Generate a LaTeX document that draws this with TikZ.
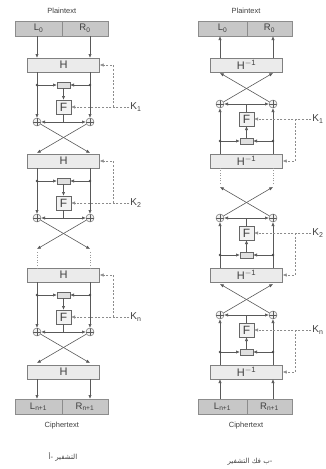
\documentclass[tikz,border=0pt]{standalone}
\usepackage{fontspec}
\setmainfont{Liberation Sans}
\newfontfamily\arabicfont[Script=Arabic]{DejaVu Sans}
\TeXXeTstate=1
\usetikzlibrary{arrows.meta, positioning, calc}

\begin{document}
\begin{tikzpicture}[
  x=1pt, y=-1pt,
  line/.style     = {draw=black!65, line width=0.6pt},
  arrow/.style    = {line, -{Latex[length=3.8pt,width=3.4pt]}},
  keyline/.style  = {draw=black!45, line width=0.5pt, dash pattern=on 2pt off 1.6pt},
  keyarrow/.style = {keyline, -{Latex[length=3.8pt,width=3.4pt]}},
  dotline/.style  = {draw=black!40, line width=0.5pt, dash pattern=on 1pt off 1.6pt},
  hbox/.style     = {draw=black!50, fill=black!8, minimum width=72pt, minimum height=14pt,
                     inner sep=0pt, font=\fontsize{11}{11}\selectfont, text=black!75},
  half/.style     = {draw=black!45, fill=black!22, minimum width=#1, minimum height=15pt,
                     inner sep=0pt, font=\fontsize{9.5}{10}\selectfont, text=black!75},
  fbox/.style     = {draw=black!60, fill=black!5, minimum width=15pt, minimum height=14pt,
                     inner sep=0pt, font=\fontsize{12}{12}\selectfont, text=black!75},
  smallbox/.style = {draw=black!60, fill=black!12, minimum width=13pt, minimum height=6.5pt,
                     inner sep=0pt},
  xor/.style      = {circle, draw=black!65, fill=black!6, minimum size=8pt, inner sep=0pt,
                     path picture={\draw[black!65]
                       (path picture bounding box.north) -- (path picture bounding box.south)
                       (path picture bounding box.west) -- (path picture bounding box.east);}},
  klabel/.style   = {font=\fontsize{10}{10}\selectfont, text=black!75, inner sep=1pt},
  title/.style    = {font=\fontsize{7.5}{8}\selectfont, text=black!75},
  dot/.style      = {fill=black!70}
]
\useasboundingbox (0,0) rectangle (325,469);

% ── Encryption (left) ─────────────────────────────────────────────────────────
\node[half=47pt] (eL0) at (38.5,28.5) {L\textsubscript{0}};
\node[half=46pt] (eR0) at (85,28.5)   {R\textsubscript{0}};
\node[title, above=4pt of $(eL0.north)!0.5!(eR0.north)$] (ePt) {Plaintext};

\node[hbox] (eH1) at (63.5,65)  {H};
\node[hbox] (eH2) at (63.5,161) {H};
\node[hbox] (eH3) at (63.5,275) {H};
\node[hbox] (eH4) at (63.5,372) {H};

\foreach \r/\y/\k in {1/65/1, 2/161/2, 3/275/n} {
  \node[smallbox] (eS\r)  at (63.5,\y+20) {};
  \node[fbox]     (eF\r)  at (63.5,\y+42) {F};
  \node[xor]      (eXl\r) at (37,\y+57) {};
  \node[xor]      (eXr\r) at (90,\y+57) {};
  \node[klabel]   (eK\r)  at (136,\y+42) {K\textsubscript{\k}};
  \coordinate (eJl\r) at (37,\y+20);
  \coordinate (eJr\r) at (90,\y+20);
  \coordinate (eJo\r) at (63.5,\y+57);
  \coordinate (eKc\r) at (113,\y+42);
  \coordinate (eEl\r) at (37,\y+88);
  \coordinate (eEr\r) at (90,\y+88);
  % branches
  \draw[arrow] (eH\r.south -| eXl\r) -- (eXl\r);
  \draw[arrow] (eH\r.south -| eXr\r) -- (eXr\r);
  \draw[arrow] (eJl\r) -- (eS\r);
  \draw[arrow] (eJr\r) -- (eS\r);
  \fill[dot] (eJl\r) circle (1.3pt) (eJr\r) circle (1.3pt);
  \draw[arrow] (eS\r) -- (eF\r);
  \draw[line]  (eF\r) -- (eJo\r);
  \draw[arrow] (eJo\r) -- (eXl\r);
  \draw[arrow] (eJo\r) -- (eXr\r);
  % key
  \draw[keyarrow] (eK\r) -- (eF\r);
  \draw[keyarrow] (eKc\r) |- (eH\r.east);
  % swap
  \draw[arrow] (eXl\r) -- (eEr\r);
  \draw[arrow] (eXr\r) -- (eEl\r);
}
\draw[dotline, shorten <=3pt] (eEl2) -- (eH3.north -| eEl2);
\draw[dotline, shorten <=3pt] (eEr2) -- (eH3.north -| eEr2);

\node[half=47pt] (eLn) at (38.5,406.5) {L\textsubscript{n+1}};
\node[half=46pt] (eRn) at (85,406.5)   {R\textsubscript{n+1}};
\node[title, below=4pt of $(eLn.south)!0.5!(eRn.south)$] (eCt) {Ciphertext};

\draw[arrow] (eXl1 |- eL0.south) -- (eXl1 |- eH1.north);
\draw[arrow] (eXr1 |- eR0.south) -- (eXr1 |- eH1.north);
\draw[arrow] (eXl3 |- eH4.south) -- (eXl3 |- eLn.north);
\draw[arrow] (eXr3 |- eH4.south) -- (eXr3 |- eRn.north);

\node[font=\arabicfont\fontsize{7}{8}\selectfont, text=black!75] (eCap) at (63,457)
  {\beginR التشفير -أ\endR};

% ── Decryption (right) ────────────────────────────────────────────────────────
\node[half=49pt] (dL0) at (222.5,28.5) {L\textsubscript{0}};
\node[half=45pt] (dR0) at (269.5,28.5) {R\textsubscript{0}};
\node[title, above=4pt of $(dL0.north)!0.5!(dR0.north)$] (dPt) {Plaintext};

\node[hbox] (dH1) at (246.5,65)  {H\textsuperscript{$-$1}};
\node[hbox] (dH2) at (246.5,161) {H\textsuperscript{$-$1}};
\node[hbox] (dH3) at (246.5,275) {H\textsuperscript{$-$1}};
\node[hbox] (dH4) at (246.5,372) {H\textsuperscript{$-$1}};

\foreach \r/\n/\y/\k in {1/2/161/1, 2/3/275/2, 3/4/372/n} {
  \node[smallbox] (dS\r)  at (246.5,\y-20) {};
  \node[fbox]     (dF\r)  at (246.5,\y-42) {F};
  \node[xor]      (dXl\r) at (220,\y-57) {};
  \node[xor]      (dXr\r) at (273,\y-57) {};
  \node[klabel]   (dK\r)  at (318,\y-42) {K\textsubscript{\k}};
  \coordinate (dJl\r) at (220,\y-20);
  \coordinate (dJr\r) at (273,\y-20);
  \coordinate (dJo\r) at (246.5,\y-57);
  \coordinate (dKc\r) at (295,\y-42);
  \coordinate (dEl\r) at (220,\y-88);
  \coordinate (dEr\r) at (273,\y-88);
  % branches
  \draw[arrow] (dH\n.north -| dXl\r) -- (dXl\r);
  \draw[arrow] (dH\n.north -| dXr\r) -- (dXr\r);
  \draw[arrow] (dJl\r) -- (dS\r);
  \draw[arrow] (dJr\r) -- (dS\r);
  \fill[dot] (dJl\r) circle (1.3pt) (dJr\r) circle (1.3pt);
  \draw[arrow] (dS\r) -- (dF\r);
  \draw[line]  (dF\r) -- (dJo\r);
  \draw[arrow] (dJo\r) -- (dXl\r);
  \draw[arrow] (dJo\r) -- (dXr\r);
  % key
  \draw[keyarrow] (dK\r) -- (dF\r);
  \draw[keyarrow] (dKc\r) |- (dH\n.east);
  % swap
  \draw[arrow] (dXl\r) -- (dEr\r);
  \draw[arrow] (dXr\r) -- (dEl\r);
}
\draw[dotline, shorten <=3pt] (dEl2) -- (dH2.south -| dEl2);
\draw[dotline, shorten <=3pt] (dEr2) -- (dH2.south -| dEr2);

\node[half=49pt] (dLn) at (222.5,406.5) {L\textsubscript{n+1}};
\node[half=45pt] (dRn) at (269.5,406.5) {R\textsubscript{n+1}};
\node[title, below=4pt of $(dLn.south)!0.5!(dRn.south)$] (dCt) {Ciphertext};

\draw[arrow] (dXl1 |- dH1.north) -- (dXl1 |- dL0.south);
\draw[arrow] (dXr1 |- dH1.north) -- (dXr1 |- dR0.south);
\draw[arrow] (dXl3 |- dLn.north) -- (dXl3 |- dH4.south);
\draw[arrow] (dXr3 |- dRn.north) -- (dXr3 |- dH4.south);

\node[font=\arabicfont\fontsize{7}{8}\selectfont, text=black!75] (dCap) at (250,462)
  {\beginR -ب فك التشفير\endR};

\end{tikzpicture}
\end{document}
